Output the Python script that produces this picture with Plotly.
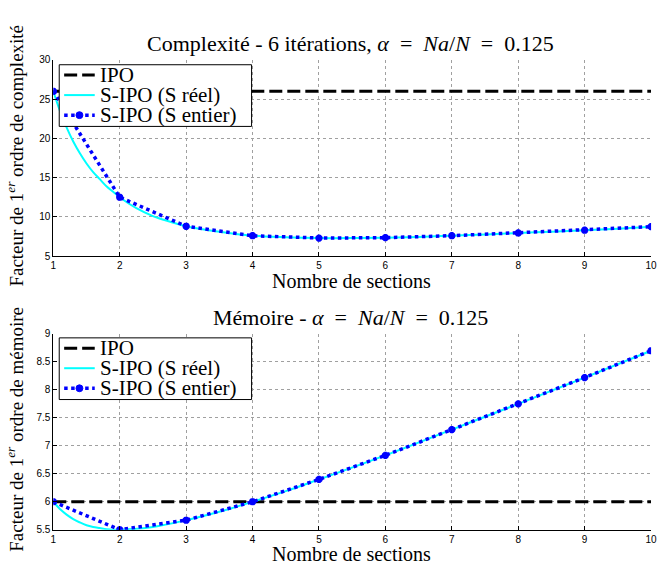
import plotly.graph_objects as go

# ---- data ----
sections = [1, 2, 3, 4, 5, 6, 7, 8, 9, 10]

# Complexity (top)
cplx_ipo = [26, 26, 26, 26, 26, 26, 26, 26, 26, 26]
cplx_int = [26.0, 12.5, 8.8, 7.6, 7.3, 7.35, 7.6, 7.95, 8.3, 8.75]
cplx_real_x = [1, 1.1, 1.2, 1.3, 1.4, 1.5, 1.6, 1.7, 1.8, 1.9, 2, 2.25, 2.5, 2.75,
               3, 3.5, 4, 4.5, 5, 5.5, 6, 6.5, 7, 7.5, 8, 8.5, 9, 9.5, 10]
cplx_real_y = [26.0, 23.5, 21.4, 19.6, 18.1, 16.8, 15.7, 14.8, 13.9, 13.2, 12.5, 11.1,
               10.1, 9.4, 8.8, 8.1, 7.6, 7.4, 7.3, 7.3, 7.35, 7.45, 7.6, 7.75, 7.95,
               8.1, 8.3, 8.5, 8.75]

# Memory (bottom)
mem_ipo = [6, 6, 6, 6, 6, 6, 6, 6, 6, 6]
mem_int = [6.0, 5.5, 5.67, 6.0, 6.4, 6.83, 7.29, 7.75, 8.22, 8.7]
mem_real_x = [1, 1.1, 1.2, 1.3, 1.4, 1.5, 1.6, 1.7, 1.8, 1.9, 2, 2.5, 3, 3.5,
              4, 4.5, 5, 6, 7, 8, 9, 10]
mem_real_y = [6.0, 5.87, 5.77, 5.69, 5.63, 5.58, 5.55, 5.53, 5.51, 5.50, 5.50, 5.55,
              5.67, 5.82, 6.0, 6.19, 6.4, 6.83, 7.29, 7.75, 8.22, 8.7]

names = ["IPO", "S-IPO (S réel)", "S-IPO (S entier)"]
title_top = "Complexité - 6 itérations, <i>α</i>\u2002=\u2002<i>Na</i>/<i>N</i>\u2002=\u20020.125"
title_bot = "Mémoire - <i>α</i>\u2002=\u2002<i>Na</i>/<i>N</i>\u2002=\u20020.125"
xlabel = "Nombre de sections"
ylabel_top = "Facteur de 1<sup><i>er</i></sup> ordre de complexité"
ylabel_bot = "Facteur de 1<sup><i>er</i></sup> ordre de mémoire"

SERIF = "Liberation Serif, Times New Roman, serif"
SANS = "Liberation Sans, Arial, sans-serif"

IPO_STYLE = dict(color="black", width=3, dash="13px,5px")
REAL_STYLE = dict(color="#00FFFF", width=2)
INT_STYLE = dict(color="#0000FF", width=3.5, dash="dot")

fig = go.Figure()

def add_set(xa, ya, ipo, rx, ry, iy):
    fig.add_trace(go.Scatter(x=sections, y=ipo, mode="lines", name=names[0],
                             line=IPO_STYLE, xaxis=xa, yaxis=ya))
    fig.add_trace(go.Scatter(x=rx, y=ry, mode="lines", name=names[1],
                             line=dict(shape="spline", **REAL_STYLE), xaxis=xa, yaxis=ya))
    fig.add_trace(go.Scatter(x=sections, y=iy, mode="lines+markers", name=names[2],
                             line=INT_STYLE,
                             marker=dict(symbol="asterisk-open", size=6, color="#0000FF",
                                         line=dict(color="#0000FF", width=2.5)),
                             xaxis=xa, yaxis=ya))

add_set("x", "y", cplx_ipo, cplx_real_x, cplx_real_y, cplx_int)
add_set("x2", "y2", mem_ipo, mem_real_x, mem_real_y, mem_int)

W, H = 662, 570

def px(x):
    return x / W

def py(y):
    return 1 - y / H

xdom = [px(51), px(657)]
ytop = [py(255.5), py(55)]
ybot = [py(535), py(335)]

axis_common = dict(showline=True, linecolor="black", linewidth=1, mirror=False,
                   ticks="inside", ticklen=4, tickcolor="black",
                   showgrid=True, gridcolor="#a0a0a0", griddash="dot", gridwidth=1,
                   zeroline=False, ticklabeloverflow="allow",
                   tickfont=dict(family=SANS, size=10, color="black"))

fig.update_layout(
    width=W, height=H, margin=dict(l=0, r=0, t=0, b=0),
    paper_bgcolor="white", plot_bgcolor="white", showlegend=False,
    xaxis=dict(domain=xdom, anchor="y", range=[1, 10], dtick=1, **axis_common),
    yaxis=dict(domain=ytop, anchor="x", range=[5, 30], dtick=5, **axis_common),
    xaxis2=dict(domain=xdom, anchor="y2", range=[1, 10], dtick=1, **axis_common),
    yaxis2=dict(domain=ybot, anchor="x2", range=[5.5, 9], dtick=0.5, **axis_common),
)

def ann(text, x, y, size, angle=0, xanchor="center"):
    fig.add_annotation(text=text, x=px(x), y=py(y), xref="paper", yref="paper",
                       showarrow=False, textangle=angle, xanchor=xanchor, yanchor="middle",
                       font=dict(family=SERIF, size=size, color="black"))

ann(title_top, 352, 38, 22)
ann(title_bot, 352, 318, 22)
ann(xlabel, 353, 281, 20)
ann(xlabel, 353, 560, 20)
ann(ylabel_top, 12, 153, 19, -90)
ann(ylabel_bot, 12, 432, 19, -90)

# ---- legend boxes (drawn by hand to match the compact MATLAB legend) ----
def legend_box(top):
    fig.add_shape(type="rect", xref="paper", yref="paper",
                  x0=px(57), x1=px(252), y0=py(top + 63), y1=py(top),
                  line=dict(color="black", width=1), fillcolor="white", layer="above")
    rows = [top + 10.5, top + 31, top + 51.5]
    styles = [IPO_STYLE, REAL_STYLE, INT_STYLE]
    for name, st, ry in zip(names, styles, rows):
        fig.add_shape(type="line", xref="paper", yref="paper",
                      x0=px(62), x1=px(93), y0=py(ry), y1=py(ry),
                      line=st, layer="above")
        ann(name, 96, ry, 21, xanchor="left")
    r = 3.5
    fig.add_shape(type="circle", xref="paper", yref="paper",
                  x0=px(77.5 - r), x1=px(77.5 + r), y0=py(rows[2] + r), y1=py(rows[2] - r),
                  line=dict(color="#0000FF", width=1), fillcolor="#0000FF", layer="above")

legend_box(60)
legend_box(339)

fig.write_html("out.html", config={"displayModeBar": False},
               post_script="document.body.style.margin='0';")
